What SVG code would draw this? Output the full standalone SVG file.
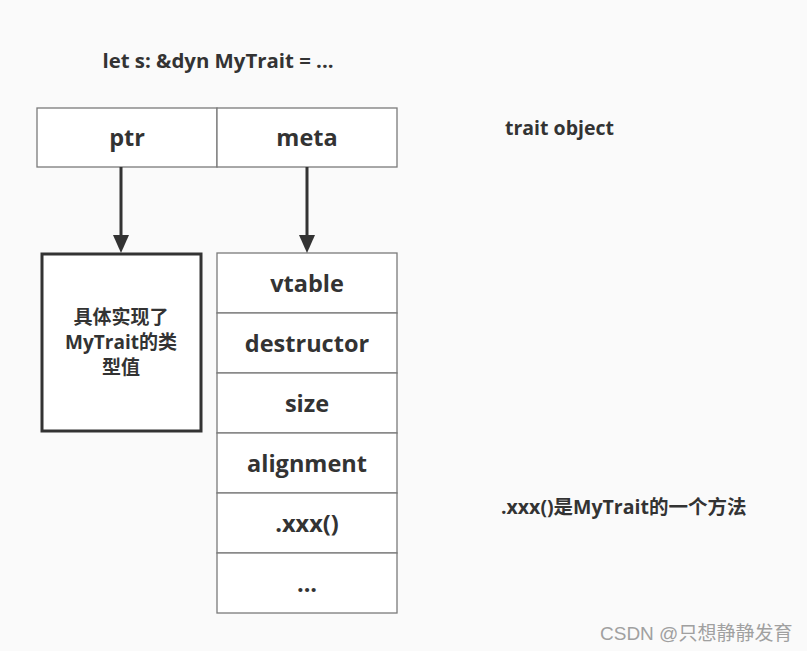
<svg xmlns="http://www.w3.org/2000/svg" width="807" height="651" viewBox="0 0 807 651">
<style>
.bg{fill:#fafafa}
.cell{fill:#ffffff;stroke:#7a7a7a;stroke-width:1.3}
.obj{fill:#ffffff;stroke:#333333;stroke-width:3}
.t{font-family:"Open Sans","Noto Sans","Noto Sans CJK SC",sans-serif;font-weight:bold;fill:#333333;text-anchor:middle}
.big{font-size:23.5px}
.mid{font-size:19.5px}
.top{font-size:20.4px}
.cjk{font-family:"Open Sans","Noto Sans CJK SC",sans-serif;font-size:19px}
.note{font-family:"Open Sans","Noto Sans CJK SC",sans-serif;font-size:19.5px}
.lbl{text-anchor:start}
.wm{font-family:"Liberation Sans","Noto Sans CJK SC",sans-serif;font-size:19px;fill:#a0a0a0}
.conn{stroke:#333333;stroke-width:3;fill:none}
</style>
<rect class="bg" x="0" y="0" width="807" height="651"/>
<text class="t top" x="218" y="68">let s: &amp;dyn MyTrait = ...</text>
<text class="t mid lbl" x="505" y="135">trait object</text>
<text class="t note lbl" x="501" y="514">.xxx()是MyTrait的一个方法</text>
<g id="ptr"><rect class="cell" x="37" y="108" width="180" height="59"/><text class="t big" x="127" y="146">ptr</text></g>
<g id="meta"><rect class="cell" x="217" y="108" width="180" height="59"/><text class="t big" x="307" y="146">meta</text></g>
<g id="value"><rect class="obj" x="42" y="254" width="159" height="177"/>
<text class="t cjk" x="121" y="324">具体实现了</text>
<text class="t cjk" x="121" y="349">MyTrait的类</text>
<text class="t cjk" x="121" y="374">型值</text></g>
<g id="vtable"><rect class="cell" x="217" y="253" width="180" height="60"/><text class="t big" x="307" y="292">vtable</text></g>
<g id="destructor"><rect class="cell" x="217" y="313" width="180" height="60"/><text class="t big" x="307" y="352">destructor</text></g>
<g id="size"><rect class="cell" x="217" y="373" width="180" height="60"/><text class="t big" x="307" y="412">size</text></g>
<g id="alignment"><rect class="cell" x="217" y="433" width="180" height="60"/><text class="t big" x="307" y="472">alignment</text></g>
<g id="xxx"><rect class="cell" x="217" y="493" width="180" height="60"/><text class="t big" x="307" y="532">.xxx()</text></g>
<g id="more"><rect class="cell" x="217" y="553" width="180" height="60"/><text class="t big" x="307" y="592">...</text></g>
<g id="connectors">
<line class="conn" x1="121" y1="167" x2="121" y2="236"/>
<path d="M113,235 L129,235 L121,253 z" fill="#333333"/>
<line class="conn" x1="307" y1="167" x2="307" y2="236"/>
<path d="M299,235 L315,235 L307,253 z" fill="#333333"/>
</g>
<text class="wm" x="600" y="640">CSDN @只想静静发育</text>
</svg>
